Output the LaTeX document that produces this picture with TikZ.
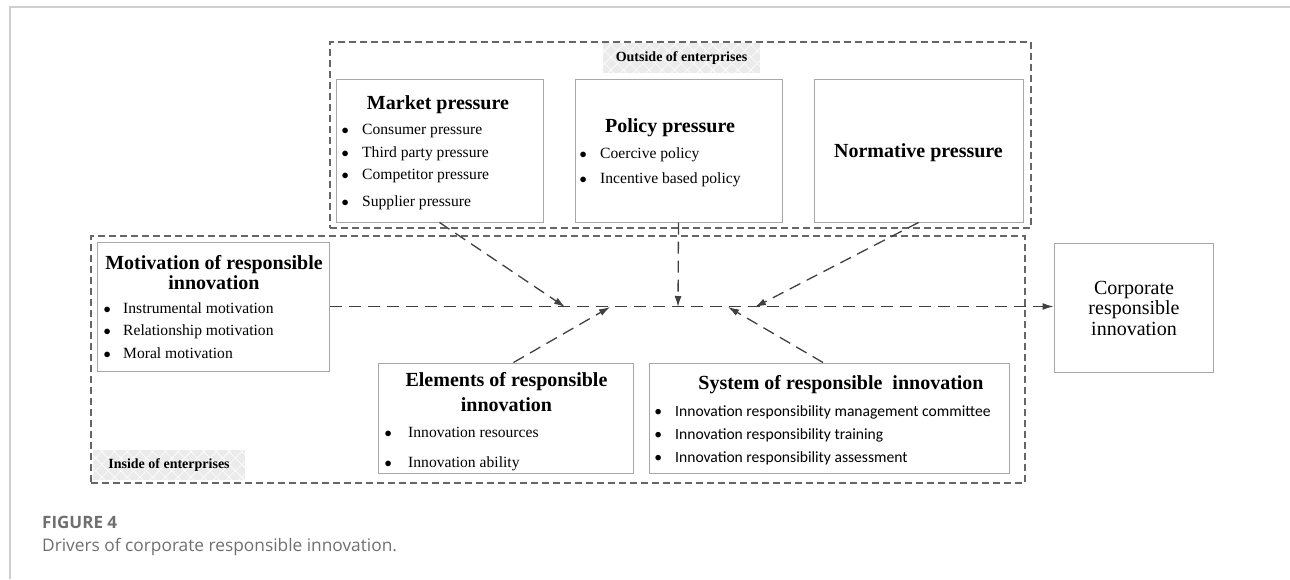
\documentclass[tikz,border=0pt]{standalone}
\usepackage{fontspec}
\setmainfont{Liberation Serif}
\newfontfamily\calfont{Carlito}
\newfontfamily\capfont{Open Sans}
\usetikzlibrary{arrows.meta,calc,patterns.meta}
\definecolor{boxcol}{HTML}{A8A8A8}
\definecolor{dashcol}{HTML}{666666}
\definecolor{arrcol}{HTML}{404040}
\definecolor{labbg}{HTML}{EBEBEB}
\definecolor{capcol}{HTML}{6F6F6F}
\definecolor{framecol}{HTML}{CFCFCF}
\newcommand\bl[2]{\llap{\makebox[5pt][c]{$\bullet$}\hspace{#1pt}}#2}
\newcommand\cbl[2]{\llap{\textbullet\hspace{#1pt}}#2}
\begin{document}
\begin{tikzpicture}[x=1pt,y=-1pt,
  box/.style={draw=boxcol, line width=1pt, inner sep=0pt},
  zone/.style={draw=dashcol, line width=1.3pt, dash pattern=on 7pt off 4pt, inner sep=0pt},
  flow/.style={draw=arrcol, line width=1.3pt, dash pattern=on 12pt off 7pt, -{Latex[length=11pt,width=7pt]}},
  title/.style={font=\fontsize{20}{20}\selectfont\bfseries, anchor=base, inner sep=0pt},
  item/.style={font=\fontsize{15.6}{16}\selectfont, anchor=base west, inner sep=0pt},
  citem/.style={font=\fontsize{15.6}{16}\selectfont\calfont, anchor=base west, inner sep=0pt},
  labbox/.style={preaction={fill=labbg}, pattern={Lines[angle=45,distance=9pt,line width=0.6pt]}, pattern color=white,
    postaction={pattern={Lines[angle=-45,distance=9pt,line width=0.6pt]}, pattern color=white},
    font=\fontsize{14}{14}\selectfont\bfseries, inner sep=0pt, text=black}
]
\useasboundingbox (0,0) rectangle (1290,579);
% page frame
\draw[framecol, line width=1.2pt] (10,579) -- (10,7) -- (1290,7);

% zones
\node[zone, minimum width=701pt, minimum height=186pt] (outside) at (680.5,135) {};
\node[zone, minimum width=934pt, minimum height=247pt] (inside) at (558,359.5) {};
\node[labbox, minimum width=157pt, minimum height=30pt] (outlab) at (681.5,58) {Outside of enterprises};
\node[labbox, minimum width=152pt, minimum height=30pt] (inlab) at (169,465) {Inside of enterprises};

% boxes
\node[box, minimum width=207pt, minimum height=143pt] (market) at (439.5,150.5) {};
\node[box, minimum width=207pt, minimum height=143pt] (policy) at (678.5,150.5) {};
\node[box, minimum width=209pt, minimum height=143pt] (norm) at (918.5,150.5) {};
\node[box, minimum width=232pt, minimum height=129pt] (mot) at (213,306.5) {};
\node[box, minimum width=255pt, minimum height=110pt] (elem) at (505.5,418) {};
\node[box, minimum width=360pt, minimum height=110pt] (sys) at (829,418) {};
\node[box, minimum width=159pt, minimum height=129pt] (corp) at (1133.5,307.5) {};

% market
\node[title] (mt) at (438,109.5) {Market pressure};
\node[item] (m1) at (362,134) {\bl{14.5}{Consumer pressure}};
\node[item] (m2) at (362,157) {\bl{14.5}{Third party pressure}};
\node[item] (m3) at (362,179) {\bl{14.5}{Competitor pressure}};
\node[item] (m4) at (362,206) {\bl{14.5}{Supplier pressure}};
% policy
\node[title] (pt) at (670,132.5) {Policy pressure};
\node[item] (p1) at (600,158) {\bl{14.5}{Coercive policy}};
\node[item] (p2) at (600,183) {\bl{14.5}{Incentive based policy}};
% normative
\node[title] (nt) at (918.5,157.5) {Normative pressure};
% motivation
\node[title] (mot1) at (214,269.5) {Motivation of responsible};
\node[title] (mot2) at (214,289.5) {innovation};
\node[item] (o1) at (123,313) {\bl{13.5}{Instrumental motivation}};
\node[item] (o2) at (123,335) {\bl{13.5}{Relationship motivation}};
\node[item] (o3) at (123,358) {\bl{13.5}{Moral motivation}};
% elements
\node[title] (el1) at (506.5,386.5) {Elements of responsible};
\node[title] (el2) at (506.5,411.5) {innovation};
\node[item] (e1) at (408,437) {\bl{17.5}{Innovation resources}};
\node[item] (e2) at (408,467) {\bl{17.5}{Innovation ability}};
% system
\node[title] (st) at (841,389.5) {System of responsible\ \ innovation};
\node[citem] (s1) at (675,416) {\cbl{13.1}{Innovation responsibility management committee}};
\node[citem] (s2) at (675,439) {\cbl{13.1}{Innovation responsibility training}};
\node[citem] (s3) at (675,462) {\cbl{13.1}{Innovation responsibility assessment}};
% corporate
\node[font=\fontsize{20}{20.5}\selectfont, align=center, inner sep=0pt] (ct) at (1134,308) {Corporate\\responsible\\innovation};

% connectors
\coordinate (j1) at (565,307);
\coordinate (j2) at (610,307);
\coordinate (j3) at (678,307);
\coordinate (j4) at (728,307);
\coordinate (j5) at (755,307);
\draw[flow] (mot.east) -- (mot.east -| corp.west);
\draw[flow] (market.south) -- (j1);
\draw[flow] (policy.south) -- (j3);
\draw[flow] (norm.south) -- (j5);
\draw[flow] ($(elem.north)+(8,0)$) -- (j2);
\draw[flow] ($(sys.north)+(-6,0)$) -- (j4);

% caption
\node[font=\fontsize{17}{17}\selectfont\capfont\bfseries, text=capcol, anchor=base west, inner sep=0pt] (figno) at (42,528) {FIGURE 4};
\node[font=\fontsize{17.3}{17}\selectfont\capfont, text=capcol, anchor=base west, inner sep=0pt] (figcap) at (42,551) {Drivers of corporate responsible innovation.};
\end{tikzpicture}
\end{document}
